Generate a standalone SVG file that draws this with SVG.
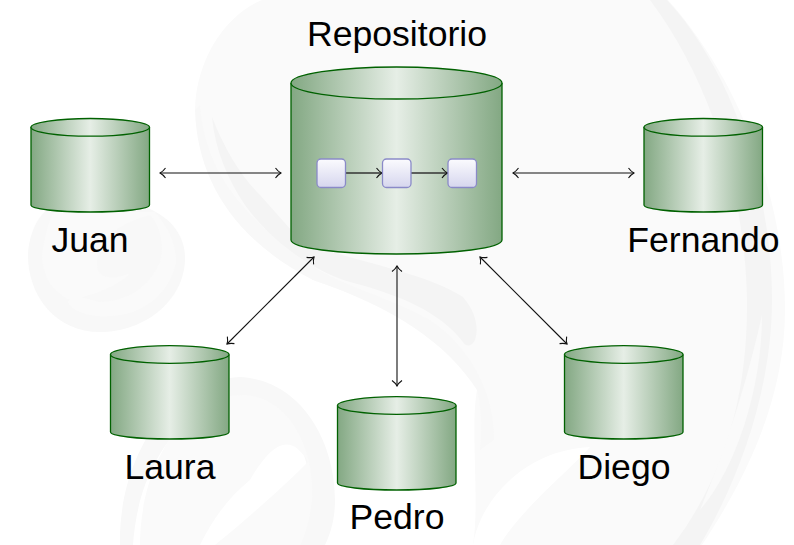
<svg xmlns="http://www.w3.org/2000/svg" width="794" height="545" viewBox="0 0 794 545">
<style>
.lab{font-family:"Liberation Sans",Arial,sans-serif;font-size:35.6px;fill:#000;text-anchor:middle}
.cyl{fill:url(#g);stroke:#006100;stroke-width:1.3}
.box{fill:url(#b);stroke:#8a8ac8;stroke-width:1.3}
.c{fill:none;stroke:#111;stroke-width:1.1}
.i{fill:none;stroke:#333;stroke-width:1.4}
.w1{fill:#f4f4f4}.w2{fill:#fafafa}.w3{fill:#f8f8f8}.w4{fill:#fff}
</style>
<defs>
<linearGradient id="g"><stop offset="0" stop-color="#83a883"/><stop offset=".5" stop-color="#e6eee6"/><stop offset="1" stop-color="#83a883"/></linearGradient>
<linearGradient id="b" x2="0" y2="1"><stop offset="0" stop-color="#fbfbfe"/><stop offset="1" stop-color="#d6d6ee"/></linearGradient>
<marker id="a" viewBox="-9 -6 10 12" markerWidth="10" markerHeight="12" refX="0" refY="0" orient="auto-start-reverse" markerUnits="userSpaceOnUse"><path d="M-5.500-5Q-3-1.500 0 0Q-3 1.500-5.500 5" fill="none" stroke="#111" stroke-width="1.1"/></marker>
</defs>
<rect width="794" height="545" fill="#fff"/>
<g id="watermark">
<path class="w2" d="M195 110C196 60 225 15 262 0H668C740 80 785 200 785 310C785 400 745 480 702 545H473C480 500 470 430 477 390C460 340 393 307 313 280C250 240 205 180 195 110Z"/>
<path class="w3" d="M195 110C197 180 235 240 313 280C393 307 447 343 477 390C482 410 482 430 480 450L494 440C495 400 475 350 430 320C380 292 330 285 290 250C240 210 205 170 200 105Z"/>
<path class="w1" d="M212 117C225 150 240 175 260 195L300 240C350 262 420 270 463 297C476 312 479 328 475 340C471 348 465 346 463 342C440 312 400 295 350 282C310 270 270 240 245 205C228 180 215 150 212 117Z"/>
<path class="w1" d="M650 0H667C732 70 772 190 772 300C772 380 745 470 700 545H673C722 480 748 400 747 300C745 190 710 80 650 0Z"/>
<path class="w2" d="M762 315C762 390 735 470 700 510C725 450 745 390 762 315Z"/>
<path class="w4" d="M473 545C480 500 525 450 590 447C570 470 520 510 500 545Z"/>
<path class="w3" d="M120 545C118 470 160 380 240 377C300 380 335 440 335 500C335 520 330 535 325 545H300C318 500 315 440 265 400C210 385 140 440 133 545Z"/>
<path class="w2" d="M140 545C140 470 180 395 245 395C290 398 315 450 312 500C310 520 305 535 300 545H215C240 525 280 490 308 462C290 430 270 445 250 480C225 500 210 525 200 545Z"/>
<path class="w3" d="M28 253C30 225 45 205 60 205H140C170 215 185 235 185 258C185 300 145 332 100 332C55 332 27 295 28 253Z"/>
<path class="w2" d="M42 255C45 235 50 215 55 212H155C170 230 176 245 176 262C170 295 140 316 110 316C90 318 70 310 68 302C70 295 85 297 98 302C130 302 150 285 160 262C165 245 160 225 150 215C125 222 97 235 97 265C97 280 115 280 130 273C120 285 95 295 70 300C50 290 43 275 42 255Z"/>
</g>
<g id="connectors">
<path class="c" d="M160 173H281" marker-start="url(#a)" marker-end="url(#a)"/>
<path class="c" d="M513 173H634" marker-start="url(#a)" marker-end="url(#a)"/>
<path class="c" d="M227 344L314 257" marker-start="url(#a)" marker-end="url(#a)"/>
<path class="c" d="M397 266V386" marker-start="url(#a)" marker-end="url(#a)"/>
<path class="c" d="M480 257L567 344" marker-start="url(#a)" marker-end="url(#a)"/>
</g>
<g id="repositorio">
<path class="cyl" d="M291 83V240C291 248 338 254 396.500 254S502 248 502 240V83"/>
<ellipse class="cyl" cx="396.500" cy="83" rx="105.500" ry="16"/>
<text class="lab" x="397" y="46">Repositorio</text>
<path class="i" d="M346 173H382" marker-end="url(#a)"/>
<path class="i" d="M411 173H447.500" marker-end="url(#a)"/>
<rect id="box1" class="box" x="317" y="159" width="28.500" height="28.500" rx="4"/>
<rect id="box2" class="box" x="382.500" y="159" width="28.500" height="28.500" rx="4"/>
<rect id="box3" class="box" x="448" y="159" width="28.500" height="28.500" rx="4"/>
</g>
<g id="juan">
<path class="cyl" d="M31 127V205C31 209 57 212 90.250 212S149.500 209 149.500 205V127"/>
<ellipse class="cyl" cx="90.250" cy="127.300" rx="59.250" ry="8.800"/>
<text class="lab" x="90" y="252">Juan</text>
</g>
<g id="fernando">
<path class="cyl" d="M644 127V205C644 209 670 212 703.250 212S762.500 209 762.500 205V127"/>
<ellipse class="cyl" cx="703.250" cy="127.300" rx="59.250" ry="8.800"/>
<text class="lab" x="703.500" y="252">Fernando</text>
</g>
<g id="laura">
<path class="cyl" d="M110.500 354.500V432C110.500 436 137 439 169.750 439S229 436 229 432V354.500"/>
<ellipse class="cyl" cx="169.750" cy="354.500" rx="59.250" ry="8.800"/>
<text class="lab" x="170" y="479">Laura</text>
</g>
<g id="pedro">
<path class="cyl" d="M337.500 405.500V483C337.500 487 364 490 396.750 490S456 487 456 483V405.500"/>
<ellipse class="cyl" cx="396.750" cy="405.500" rx="59.250" ry="8.800"/>
<text class="lab" x="397" y="529">Pedro</text>
</g>
<g id="diego">
<path class="cyl" d="M564.500 354.500V432C564.500 436 591 439 623.750 439S683 436 683 432V354.500"/>
<ellipse class="cyl" cx="623.750" cy="354.500" rx="59.250" ry="8.800"/>
<text class="lab" x="624" y="479">Diego</text>
</g>
</svg>
